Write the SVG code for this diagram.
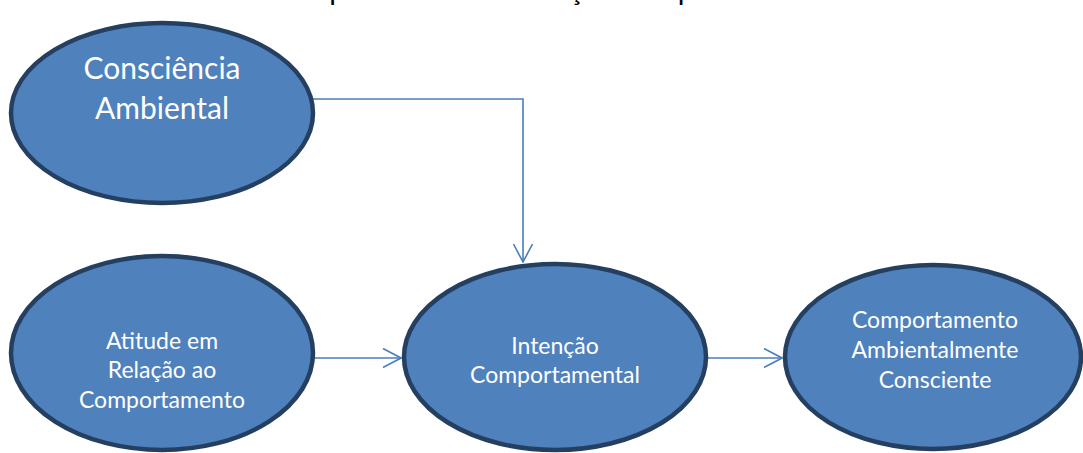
<svg xmlns="http://www.w3.org/2000/svg" width="1083" height="453" viewBox="0 0 1083 453">
  <defs>
    <style>
      .node ellipse { fill: #4F81BD; stroke: #243F60; stroke-width: 4.5; }
      .node text { fill: #FFFFFF; font-family: Lato, "Open Sans", "Liberation Sans", sans-serif; text-anchor: middle; }
      .lbl { font-size: 23px; }
      .lbl-big { font-size: 30px; }
      .title { fill: #000000; font-family: Lato, "Open Sans", "Liberation Sans", sans-serif; font-size: 29px; text-anchor: middle; }
      .edge { fill: none; stroke: #4A7EBB; stroke-width: 1.6; }
    </style>
    <marker id="open-arrow" viewBox="0 0 20 20" refX="19" refY="10" markerWidth="20" markerHeight="20" markerUnits="userSpaceOnUse" orient="auto">
      <path d="M1,0.5 L19,10 L1,19.5" fill="none" stroke="#4A7EBB" stroke-width="1.6"/>
    </marker>
  </defs>

  <rect width="1083" height="453" fill="#FFFFFF"/>

  <!-- heading line, running off the top edge -->
  <text class="title" x="550" y="0" textLength="558" lengthAdjust="spacing">Comportamento e Intenção Comportamental</text>

  <!-- connectors -->
  <g id="connectors">
    <path class="edge" d="M294,99 H523 V262" marker-end="url(#open-arrow)"/>
    <path class="edge" d="M312,358 H401" marker-end="url(#open-arrow)"/>
    <path class="edge" d="M692,358 H782" marker-end="url(#open-arrow)"/>
  </g>

  <!-- nodes -->
  <g id="node-consciencia" class="node">
    <ellipse cx="162" cy="113" rx="151" ry="90"/>
    <text class="lbl-big" x="162" y="79">Consciência</text>
    <text class="lbl-big" x="162" y="119">Ambiental</text>
  </g>

  <g id="node-atitude" class="node">
    <ellipse cx="162" cy="353" rx="151" ry="97"/>
    <text class="lbl" x="162" y="349">Atitude em</text>
    <text class="lbl" x="162" y="378">Relação ao</text>
    <text class="lbl" x="162" y="408">Comportamento</text>
  </g>

  <g id="node-intencao" class="node">
    <ellipse cx="555" cy="357" rx="151" ry="93"/>
    <text class="lbl" x="555" y="354">Intenção</text>
    <text class="lbl" x="555" y="383">Comportamental</text>
  </g>

  <g id="node-comportamento" class="node">
    <ellipse cx="933" cy="357" rx="148" ry="92"/>
    <text class="lbl" x="935" y="328">Comportamento</text>
    <text class="lbl" x="935" y="358">Ambientalmente</text>
    <text class="lbl" x="935" y="388">Consciente</text>
  </g>
</svg>
